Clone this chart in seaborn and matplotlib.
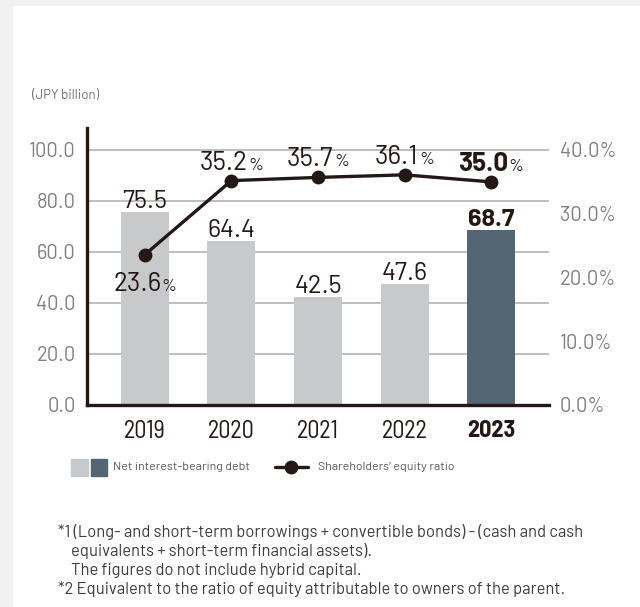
import matplotlib
matplotlib.use("Agg")
import matplotlib.pyplot as plt
import seaborn as sns
import pandas as pd
from matplotlib.patches import Rectangle
from matplotlib.lines import Line2D

# Data
years = ["2019", "2020", "2021", "2022", "2023"]
net_debt = [75.5, 64.4, 42.5, 47.6, 68.7]
equity_ratio = [23.6, 35.2, 35.7, 36.1, 35.0]
left_ticks = [0, 20, 40, 60, 80, 100]
right_ticks = [0, 10, 20, 30, 40]

BAR_GRAY = "#c8c9cb"
BAR_DARK = "#546673"
INK = "#231815"
TICK_GRAY = "#7f7f7f"
TEXT_GRAY = "#595757"

REG = ["Barlow", "DejaVu Sans"]
COND = ["Barlow Semi Condensed", "DejaVu Sans"]

sns.set_theme(style="white")
plt.rcParams["font.family"] = REG

W, H = 640, 607
fig = plt.figure(figsize=(W / 100, H / 100), dpi=100)
renderer = fig.canvas.get_renderer()


def fx(px):
    return px / W


def fy(py):
    return 1 - py / H


def size_for(text, width_px, family, weight="normal"):
    """Font size (pt) at which `text` spans roughly `width_px` pixels."""
    probe = fig.text(0, 0, text, fontsize=20, family=family, fontweight=weight)
    w = probe.get_window_extent(renderer).width
    probe.remove()
    return 20 * width_px / w


TICK_FS = size_for("100.0", 47, REG)
YEAR_FS = size_for("2019", 42, COND)
BAR_FS = size_for("75.5", 45, REG)
PCT_FS = size_for("35.2", 48, REG)
SIGN_FS = size_for("%", 15, REG)
LEG_FS = size_for("Net interest-bearing debt", 137, REG)
NOTE_FS = size_for("*1 (Long- and short-term borrowings + convertible bonds) - (cash and cash", 525, REG)
CAP_FS = size_for("(JPY billion)", 67, REG)

# page backdrop and white card
fig.patches.append(Rectangle((0, 0), 1, 1, transform=fig.transFigure,
                             color="#f1f1f1", zorder=-10))
fig.patches.append(Rectangle((fx(13), 0), 1, fy(6), transform=fig.transFigure,
                             color="white", zorder=-9))

ax = fig.add_axes([fx(87), fy(405), fx(549 - 87), (405 - 128) / H])
ax.set_facecolor("none")

df = pd.DataFrame({"year": years, "debt": net_debt, "ratio": equity_ratio})
palette = [BAR_GRAY] * (len(years) - 1) + [BAR_DARK]
sns.barplot(data=df, x="year", y="debt", hue="year", palette=palette,
            width=0.555, saturation=1, linewidth=0, legend=False, ax=ax, zorder=2)

ax.set_xlim(-0.67, len(years) - 1 + 0.67)
ax.set_ylim(0, 108.6)
ax.set_yticks(left_ticks)
ax.set_yticklabels([f"{v:.1f}" for v in left_ticks])
ax.yaxis.grid(True, color="#b9b9b9", linewidth=1.3, zorder=0)
ax.set_axisbelow(True)
ax.set_xlabel("")
ax.set_ylabel("")
for s in ["top", "right"]:
    ax.spines[s].set_visible(False)
for s in ["left", "bottom"]:
    ax.spines[s].set_color(INK)
    ax.spines[s].set_linewidth(2.4)
ax.tick_params(axis="y", length=0, pad=8, labelsize=TICK_FS, labelcolor=TICK_GRAY)
ax.tick_params(axis="x", length=0, pad=11, labelsize=YEAR_FS, labelcolor=INK)
for lab in ax.get_xticklabels():
    lab.set_family(COND)
    if lab.get_text() == years[-1]:
        lab.set_fontweight("bold")

# bar value labels
for i, v in enumerate(net_debt):
    last = i == len(years) - 1
    ax.annotate(f"{v:.1f}", (i, v), xytext=(0, 4), textcoords="offset pixels",
                ha="center", va="baseline", fontsize=BAR_FS, color=INK,
                fontweight="bold" if last else "normal")

# equity ratio line on the secondary axis
ax2 = ax.twinx()
ax2.set_facecolor("none")
sns.lineplot(data=df, x="year", y="ratio", color=INK, linewidth=2.4,
             marker="o", markersize=10, markeredgewidth=0, ax=ax2, zorder=5,
             sort=False)
ax2.set_xlim(ax.get_xlim())
ax2.set_ylim(0, 43.45)
ax2.set_yticks(right_ticks)
ax2.set_yticklabels([f"{v:.1f}%" for v in right_ticks])
ax2.tick_params(axis="y", length=0, pad=8, labelsize=TICK_FS, labelcolor=TICK_GRAY)
ax2.set_ylabel("")
ax2.set_xlabel("")
for s in ["top", "right", "left", "bottom"]:
    ax2.spines[s].set_visible(False)

fig.canvas.draw()

# ratio labels: large number followed closely by a smaller percent sign
for i, v in enumerate(equity_ratio):
    last = i == len(years) - 1
    dy = -36 if i == 0 else 11
    num = ax2.annotate(f"{v:.1f}", (i, v), xytext=(0, dy), textcoords="offset pixels",
                       ha="center", va="baseline", fontsize=PCT_FS, color=INK,
                       fontweight="bold" if last else "normal")
    pct = ax2.annotate("%", (i, v), xytext=(0, dy), textcoords="offset pixels",
                       ha="left", va="baseline", fontsize=SIGN_FS, color=INK)
    nw = num.get_window_extent(renderer).width
    pw = pct.get_window_extent(renderer).width
    gap = 0.5
    shift = -(pw + gap) / 2
    num.xyann = (shift, dy)
    pct.xyann = (shift + nw / 2 + gap, dy)

# unit caption
fig.text(fx(32), fy(96), "(JPY billion)", fontsize=CAP_FS, color="#6f6f6f",
         ha="left", va="center")

# legend
fig.patches.append(Rectangle((fx(71), fy(476)), fx(17), 17 / H,
                             transform=fig.transFigure, color=BAR_GRAY))
fig.patches.append(Rectangle((fx(91), fy(476)), fx(16), 17 / H,
                             transform=fig.transFigure, color=BAR_DARK))
fig.text(fx(113), fy(467), "Net interest-bearing debt", fontsize=LEG_FS,
         color=TEXT_GRAY, ha="left", va="center")
fig.lines.append(Line2D([fx(275), fx(308)], [fy(467), fy(467)],
                        transform=fig.transFigure, color=INK, linewidth=2.4))
fig.lines.append(Line2D([fx(291)], [fy(467)], transform=fig.transFigure,
                        color=INK, marker="o", markersize=10, markeredgewidth=0))
fig.text(fx(318), fy(467), "Shareholders\u2019 equity ratio", fontsize=LEG_FS,
         color=TEXT_GRAY, ha="left", va="center")

# footnotes
notes = [
    (58, 532, "*1 (Long- and short-term borrowings + convertible bonds) - (cash and cash"),
    (71, 551, "equivalents + short-term financial assets)."),
    (71, 570, "The figures do not include hybrid capital."),
    (58, 589, "*2 Equivalent to the ratio of equity attributable to owners of the parent."),
]
for x, y, t in notes:
    fig.text(fx(x), fy(y), t, fontsize=NOTE_FS, color="#3e3a39", ha="left", va="center")

fig.savefig("out.png", dpi=100)
